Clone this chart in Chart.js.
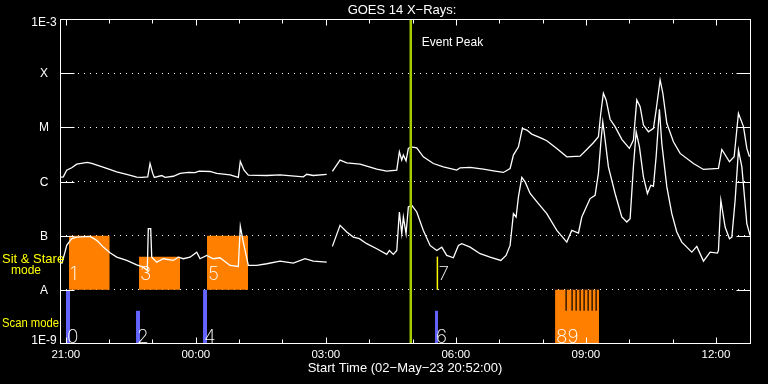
<!DOCTYPE html>
<html>
<head>
<meta charset="utf-8">
<script src="https://cdn.jsdelivr.net/npm/chart.js@4.4.0/dist/chart.umd.min.js"></script>
<style>
html, body { margin: 0; padding: 0; background: #000; }
</style>
</head>
<body>
<canvas id="goes" width="768" height="384"></canvas>
<script>
// time is in hours from 02-May-23 00:00 (so 24 = 00:00 on 03-May)
var startHour = 20 + 52 / 60;
var endHour = 36.81;
var peakHour = 28.96;

var yTickValues = [1e-9, 1e-8, 1e-7, 1e-6, 1e-5, 1e-4, 1e-3];
var yTickLabels = ['1E-9', 'A', 'B', 'C', 'M', 'X', '1E-3'];
var xTickHours = [21, 24, 27, 30, 33, 36];
var xTickLabels = ['21:00', '00:00', '03:00', '06:00', '09:00', '12:00'];

// 1-8 A channel
var longTimes = [20.890, 20.943, 21.021, 21.137, 21.252, 21.497, 21.598, 21.790, 21.944, 22.175,
  22.406, 22.637, 22.752, 22.891, 22.944, 23.006, 23.043, 23.214, 23.290, 23.481,
  23.636, 23.828, 23.982, 24.074, 24.328, 24.483, 24.790, 24.981, 25.027, 25.113,
  25.212, 25.637, 25.944, 26.481, 26.560, 26.712, 27.021, 27.080, 27.151, 27.328,
  27.483, 27.790, 27.944, 28.175, 28.406, 28.637, 28.697, 28.752, 28.789, 28.851,
  28.904, 28.967, 29.098, 29.250, 29.481, 29.712, 30.021, 30.098, 30.329, 30.635,
  30.866, 31.097, 31.252, 31.328, 31.444, 31.535, 31.637, 31.752, 31.983, 32.098,
  32.329, 32.560, 32.867, 33.021, 33.173, 33.289, 33.344, 33.404, 33.467, 33.559,
  33.674, 33.829, 34.004, 34.097, 34.175, 34.252, 34.328, 34.444, 34.559, 34.621,
  34.713, 34.776, 34.868, 35.020, 35.175, 35.482, 35.713, 36.059, 36.137, 36.313,
  36.421, 36.520, 36.636, 36.714, 36.775];
var longFlux = [1.20e-6, 1.22e-6, 1.62e-6, 1.79e-6, 2.09e-6, 2.25e-6, 2.15e-6, 1.92e-6, 1.74e-6, 1.51e-6,
  1.36e-6, 1.20e-6, 1.19e-6, 1.22e-6, 2.15e-6, 1.41e-6, 1.19e-6, 1.29e-6, 1.19e-6, 1.25e-6,
  1.41e-6, 1.47e-6, 1.46e-6, 1.55e-6, 1.53e-6, 1.41e-6, 1.32e-6, 1.19e-6, 2.35e-6, 1.62e-6,
  1.31e-6, 1.29e-6, 1.32e-6, 1.22e-6, 1.36e-6, 1.29e-6, 1.35e-6, null, 1.54e-6, 2.48e-6,
  2.21e-6, 2.09e-6, 1.92e-6, 1.69e-6, 1.55e-6, 1.62e-6, 3.53e-6, 2.48e-6, 3.07e-6, 2.41e-6,
  4.08e-6, 4.37e-6, 4.19e-6, 2.86e-6, 2.15e-6, 1.86e-6, 1.62e-6, 1.79e-6, 1.82e-6, 1.69e-6,
  1.57e-6, 1.47e-6, 1.74e-6, 3.07e-6, 4.37e-6, 9.58e-6, 8.91e-6, 7.51e-6, 6.26e-6, 5.65e-6,
  4.08e-6, 2.86e-6, 2.94e-6, 3.91e-6, 5.19e-6, 6.70e-6, 1.82e-5, 4.26e-5, 3.20e-5, 1.41e-5,
  1.03e-5, 6.00e-6, 4.08e-6, 5.82e-6, 3.20e-5, 2.41e-5, 1.10e-5, 8.29e-6, 9.58e-6, 2.09e-5,
  7.52e-5, 4.26e-5, 1.19e-5, 5.41e-6, 3.30e-6, 2.15e-6, 1.67e-6, 1.74e-6, 3.91e-6, 2.31e-6,
  2.86e-6, 1.82e-5, 1.03e-5, 4.08e-6, 2.86e-6];

// 0.5-4 A channel
var shortTimes = [20.906, 20.982, 21.021, 21.137, 21.252, 21.559, 21.714, 21.866, 22.021, 22.175,
  22.406, 22.637, 22.789, 22.881, 22.904, 22.960, 22.983, 23.098, 23.250, 23.481,
  23.596, 23.712, 23.867, 24.021, 24.098, 24.252, 24.404, 24.559, 24.790, 24.981,
  25.027, 25.096, 25.212, 25.406, 25.637, 25.944, 26.250, 26.520, 26.712, 27.021,
  27.080, 27.151, 27.328, 27.483, 27.635, 27.774, 27.944, 28.175, 28.406, 28.466,
  28.558, 28.637, 28.697, 28.752, 28.789, 28.851, 28.904, 28.983, 29.098, 29.250,
  29.406, 29.560, 29.675, 29.790, 29.943, 30.059, 30.137, 30.329, 30.560, 30.790,
  31.037, 31.159, 31.252, 31.328, 31.390, 31.444, 31.522, 31.598, 31.714, 31.905,
  32.098, 32.329, 32.560, 32.675, 32.829, 32.906, 33.098, 33.213, 33.289, 33.344,
  33.390, 33.421, 33.520, 33.674, 33.829, 33.944, 34.021, 34.097, 34.160, 34.236,
  34.328, 34.420, 34.498, 34.559, 34.621, 34.697, 34.752, 34.868, 34.983, 35.098,
  35.213, 35.444, 35.560, 35.713, 35.867, 36.035, 36.059, 36.114, 36.213, 36.313,
  36.368, 36.444, 36.521, 36.599, 36.714, 36.790];
var shortFlux = [3.03e-8, 4.97e-8, 6.61e-8, 8.80e-8, 9.42e-8, 9.70e-8, 8.19e-8, 6.15e-8, 4.84e-8, 4.01e-8,
  3.49e-8, 2.90e-8, 2.62e-8, 2.28e-8, 1.35e-7, 1.35e-7, 4.01e-8, 3.25e-8, 3.75e-8, 3.49e-8,
  4.01e-8, 3.75e-8, 4.01e-8, 4.97e-8, 3.75e-8, 4.32e-8, 3.75e-8, 3.91e-8, 2.82e-8, 2.70e-8,
  1.49e-7, 7.61e-8, 2.82e-8, 2.82e-8, 3.03e-8, 3.39e-8, 3.11e-8, 3.75e-8, 3.39e-8, 3.25e-8,
  null, 6.34e-8, 1.55e-7, 1.17e-7, 9.42e-8, 8.80e-8, 7.11e-8, 5.74e-8, 4.51e-8, 5.34e-8,
  4.51e-8, 5.34e-8, 2.74e-7, 1.09e-7, 2.21e-7, 1.09e-7, 3.39e-7, 3.64e-7, 2.74e-7, 1.25e-7,
  6.61e-8, 5.34e-8, 6.15e-8, 4.32e-8, 3.91e-8, 6.61e-8, 7.11e-8, 6.15e-8, 4.64e-8, 4.01e-8,
  3.49e-8, 4.32e-8, 6.61e-8, 2.55e-7, 2.21e-7, 5.19e-7, 1.19e-6, 9.84e-7, 6.00e-7, 3.91e-7,
  2.55e-7, 1.25e-7, 7.61e-8, 1.25e-7, 1.12e-7, 2.21e-7, 4.84e-7, 5.57e-7, 1.41e-6, 5.05e-6,
  1.27e-5, 8.29e-6, 1.86e-6, 6.00e-7, 2.21e-7, 1.79e-7, 2.06e-7, 1.86e-6, 8.29e-6, 4.37e-6,
  1.22e-6, 6.00e-7, 8.53e-7, 8.18e-7, 2.86e-6, 2.15e-5, 5.05e-6, 7.94e-7, 2.55e-7, 1.17e-7,
  7.61e-8, 4.97e-8, 6.34e-8, 3.39e-8, 4.97e-8, 4.76e-8, 5.34e-8, 4.51e-7, 1.44e-7, 8.80e-8,
  9.42e-8, 4.51e-7, 3.80e-6, 1.86e-6, 1.67e-7, 1.00e-7];

// observing events: scan mode in the lower band, sit & stare in the upper band
var eventNames = ['0', '1', '2', '3', '4', '5', '6', '7', '89'];
var eventStart = [21.005, 21.074, 22.621, 22.690, 24.167, 24.259, 29.520, 29.574, 32.290];
var eventEnd   = [21.098, 22.014, 22.713, 23.636, 24.259, 25.205, 29.590, 29.574, 33.305];
var eventLow   = [1e-9, 1e-8, 1e-9, 1e-8, 1e-9, 1e-8, 1e-9, 1e-8, 1e-9];
var eventHigh  = [1e-8, 1e-7, 4.1e-9, 4.1e-8, 1e-8, 1e-7, 4.1e-9, 4.1e-8, 1e-8];
var eventColor = ['#6464ff', '#ff8000', '#6464ff', '#ff8000', '#6464ff', '#ff8000', '#6464ff', '#ffff00', '#ff8000'];
var stripeTimes = [32.544, 32.682, 32.775, 32.867, 32.959, 33.052, 33.144, 33.236];

function pts(xs, ys) {
  return xs.map(function (x, i) { return { x: x, y: ys[i] }; });
}

var datasets = [];
datasets.push({
  data: [{ x: peakHour, y: 1e-9 }, { x: peakHour, y: 1e-3 }],
  borderColor: '#a4cc00', borderWidth: 2.5, pointRadius: 0, order: 0
});
datasets.push({
  data: pts(longTimes, longFlux),
  borderColor: '#fff', borderWidth: 1.3, pointRadius: 0, spanGaps: false, order: 1
});
datasets.push({
  data: pts(shortTimes, shortFlux),
  borderColor: '#fff', borderWidth: 1.3, pointRadius: 0, spanGaps: false, order: 1
});
stripeTimes.forEach(function (t) {
  datasets.push({
    data: [{ x: t, y: 1e-8 }, { x: t, y: 4.1e-9 }],
    borderColor: '#000', borderWidth: 1.2, pointRadius: 0, order: 2
  });
});
eventNames.forEach(function (n, i) {
  if (eventStart[i] === eventEnd[i]) {
    datasets.push({
      data: [{ x: eventStart[i], y: eventLow[i] }, { x: eventStart[i], y: eventHigh[i] }],
      borderColor: eventColor[i], borderWidth: 1.5, pointRadius: 0, order: 3
    });
  } else {
    datasets.push({
      data: [{ x: eventStart[i], y: eventHigh[i] }, { x: eventEnd[i], y: eventHigh[i] }],
      borderWidth: 0, borderColor: 'rgba(0,0,0,0)', backgroundColor: eventColor[i],
      fill: { value: eventLow[i] }, pointRadius: 0, order: 3
    });
  }
});

var goesFrame = {
  id: 'goesFrame',
  beforeDraw: function (chart) {
    var c = chart.ctx;
    c.save();
    c.fillStyle = '#000';
    c.fillRect(0, 0, chart.width, chart.height);
    c.restore();
  },
  afterDatasetsDraw: function (chart) {
    var c = chart.ctx, a = chart.chartArea;
    var xs = chart.scales.x, ys = chart.scales.y;
    var L = Math.round(a.left) + 0.5, R = Math.round(a.right) - 0.5;
    var T = Math.round(a.top) + 0.5, B = Math.round(a.bottom) - 0.5;
    c.save();
    c.strokeStyle = '#fff';
    c.lineWidth = 1;
    c.strokeRect(L, T, R - L, B - T);

    // y ticks and labels
    c.font = '12px "Liberation Sans", Arial, sans-serif';
    c.fillStyle = '#fff';
    c.textAlign = 'center';
    c.textBaseline = 'middle';
    yTickValues.forEach(function (v, i) {
      var py = Math.round(ys.getPixelForValue(v)) + 0.5;
      if (i > 0 && i < yTickValues.length - 1) {
        c.beginPath();
        c.moveTo(L, py); c.lineTo(L + 14, py);
        c.moveTo(R - 14, py); c.lineTo(R, py);
        c.stroke();
      }
      var ly = py;
      if (i === 0) ly -= 3.5;
      if (i === yTickValues.length - 1) ly += 3.5;
      c.fillText(yTickLabels[i], 44, ly);
    });

    // x ticks (hourly, longer every 3 h) and labels
    for (var h = Math.ceil(startHour); h <= endHour; h++) {
      var px = Math.round(xs.getPixelForValue(h)) + 0.5;
      var len = (h % 3 === 0) ? 6 : 4;
      c.beginPath();
      c.moveTo(px, B); c.lineTo(px, B - len);
      c.moveTo(px, T); c.lineTo(px, T + len);
      c.stroke();
    }
    c.font = '11.5px "Liberation Sans", Arial, sans-serif';
    xTickHours.forEach(function (h, i) {
      c.fillText(xTickLabels[i], xs.getPixelForValue(h), 355);
    });

    c.font = '13px "Liberation Sans", Arial, sans-serif';
    c.fillText('GOES 14 X\u2212Rays:', 402, 10);
    c.fillText('Start Time (02\u2212May\u221223 20:52:00)', 405, 368);
    c.font = '12px "Liberation Sans", Arial, sans-serif';
    c.textAlign = 'left';
    c.fillText('Event Peak', xs.getPixelForValue(peakHour) + 11, 43);

    c.fillStyle = '#ffff00';
    c.font = '13px "Liberation Sans", Arial, sans-serif';
    c.fillText('Sit & Stare', 2, 259);
    c.font = '12px "Liberation Sans", Arial, sans-serif';
    c.textAlign = 'center';
    c.fillText('mode', 26, 271);
    c.textAlign = 'left';
    c.fillText('Scan mode', 2, 324, 57);

    // event numbers
    c.fillStyle = '#fff';
    c.font = '200 19px Inter, "Liberation Sans", sans-serif';
    c.textBaseline = 'alphabetic';
    eventNames.forEach(function (n, i) {
      var x0 = xs.getPixelForValue(eventStart[i]) + 1;
      var yb = ys.getPixelForValue(eventLow[i]) - (eventLow[i] > 5e-9 ? 10 : 1);
      c.fillText(n, x0, yb);
    });
    c.restore();
  }
};

new Chart(document.getElementById('goes').getContext('2d'), {
  type: 'line',
  data: { datasets: datasets },
  plugins: [goesFrame],
  options: {
    responsive: false,
    devicePixelRatio: 1,
    animation: false,
    layout: { padding: { left: 60, right: 17, top: 19, bottom: 40 } },
    plugins: { legend: { display: false }, tooltip: { enabled: false } },
    elements: { line: { tension: 0 } },
    scales: {
      x: {
        type: 'linear', min: startHour, max: endHour,
        grid: { display: false, drawTicks: false },
        border: { display: false },
        ticks: { display: false }
      },
      y: {
        type: 'logarithmic', min: 1e-9, max: 1e-3,
        afterBuildTicks: function (scale) {
          scale.ticks = yTickValues.map(function (v) { return { value: v }; });
        },
        grid: {
          drawTicks: false, lineWidth: 1,
          color: function (ctx) {
            return (ctx.index === 0 || ctx.index === yTickValues.length - 1) ? 'rgba(0,0,0,0)' : '#fff';
          }
        },
        border: { display: false, dash: [1, 5] },
        ticks: { display: false }
      }
    }
  }
});
</script>
</body>
</html>
